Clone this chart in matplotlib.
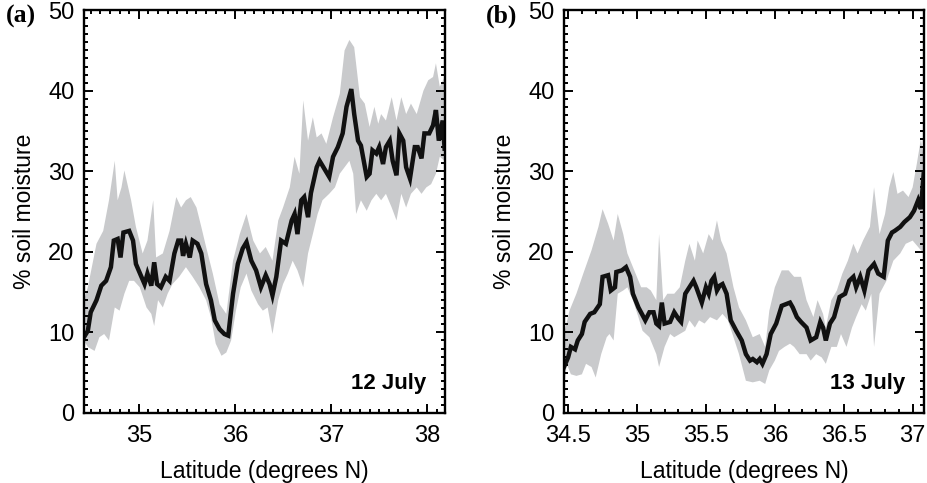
import numpy as np
import matplotlib.pyplot as plt
import matplotlib.transforms as mtransforms
from matplotlib.ticker import MultipleLocator

plt.rcParams['font.family'] = ['Liberation Sans', 'DejaVu Sans']

# ---- 12 July transect ----
lat_a = [34.43, 34.47, 34.50, 34.56, 34.61, 34.66, 34.71, 34.74, 34.78, 34.81, 34.84, 34.90,
         34.94, 34.97, 35.02, 35.06, 35.09, 35.13, 35.16, 35.19, 35.23, 35.28, 35.32, 35.37,
         35.41, 35.44, 35.46, 35.49, 35.53, 35.56, 35.61, 35.65, 35.70, 35.75, 35.79, 35.84,
         35.89, 35.93, 35.98, 36.03, 36.08, 36.12, 36.17, 36.22, 36.27, 36.32, 36.36, 36.39,
         36.43, 36.48, 36.53, 36.59, 36.62, 36.65, 36.69, 36.72, 36.76, 36.79, 36.85, 36.88,
         36.93, 36.98, 37.02, 37.07, 37.12, 37.16, 37.21, 37.24, 37.28, 37.31, 37.37, 37.40,
         37.43, 37.47, 37.50, 37.54, 37.57, 37.61, 37.64, 37.68, 37.71, 37.75, 37.78, 37.82,
         37.87, 37.90, 37.94, 37.97, 38.02, 38.06, 38.09, 38.12, 38.16, 38.18]
sm_a = [9.4, 10.2, 12.5, 14.0, 15.8, 16.4, 18.1, 21.4, 21.6, 19.3, 22.4, 22.6,
        21.4, 18.5, 17.1, 16.0, 17.3, 15.8, 18.7, 16.0, 15.6, 16.9, 16.4, 19.8,
        21.4, 21.4, 19.5, 21.0, 19.3, 21.4, 21.0, 19.8, 16.0, 14.0, 11.5, 10.4,
        9.8, 9.6, 14.8, 18.5, 20.4, 21.2, 18.9, 17.7, 15.6, 17.1, 16.0, 14.6,
        16.9, 21.4, 21.0, 23.9, 24.7, 22.2, 26.4, 26.8, 24.3, 27.3, 30.5, 31.3,
        30.3, 29.3, 31.8, 33.0, 34.7, 38.0, 40.2, 37.1, 33.8, 33.2, 29.3, 29.7,
        32.6, 32.2, 33.0, 30.9, 33.0, 33.8, 31.3, 29.5, 34.7, 33.8, 30.5, 29.1,
        33.0, 33.0, 31.6, 34.7, 34.7, 35.7, 37.6, 33.8, 36.3, 32.8]

lat_a_hi = [34.43, 34.47, 34.56, 34.63, 34.69, 34.75, 34.78, 34.82, 34.85, 34.92, 34.97, 35.04,
            35.09, 35.15, 35.18, 35.25, 35.32, 35.39, 35.44, 35.49, 35.54, 35.60, 35.65, 35.70,
            35.77, 35.84, 35.91, 35.98, 36.05, 36.12, 36.19, 36.26, 36.32, 36.39, 36.45, 36.50,
            36.57, 36.62, 36.67, 36.71, 36.76, 36.81, 36.85, 36.90, 36.95, 37.02, 37.09, 37.14,
            37.19, 37.24, 37.30, 37.35, 37.40, 37.45, 37.49, 37.52, 37.57, 37.63, 37.68, 37.73,
            37.78, 37.83, 37.89, 37.96, 38.01, 38.06, 38.09, 38.13, 38.18]
sm_a_hi = [14.0, 15.6, 21.0, 22.6, 26.4, 31.3, 26.4, 28.0, 30.1, 26.4, 23.1, 19.8,
           21.4, 26.4, 19.3, 19.8, 22.6, 26.8, 25.5, 26.4, 26.8, 25.5, 23.1, 20.6,
           17.3, 13.5, 12.3, 18.9, 22.2, 24.7, 21.4, 19.8, 20.6, 18.9, 23.9, 25.5,
           28.0, 31.8, 29.7, 38.8, 33.8, 36.7, 34.2, 34.7, 33.4, 36.7, 39.6, 45.0,
           46.3, 45.4, 39.2, 38.4, 35.5, 38.0, 35.9, 37.1, 36.3, 39.2, 36.3, 39.2,
           37.1, 38.4, 37.1, 40.0, 41.3, 41.7, 43.4, 40.5, 41.7]

lat_a_lo = [34.43, 34.47, 34.54, 34.59, 34.64, 34.69, 34.75, 34.80, 34.85, 34.90, 34.95, 35.01,
            35.08, 35.13, 35.16, 35.20, 35.25, 35.30, 35.35, 35.42, 35.49, 35.56, 35.63, 35.70,
            35.75, 35.80, 35.86, 35.91, 35.96, 36.01, 36.06, 36.12, 36.17, 36.24, 36.29, 36.34,
            36.39, 36.45, 36.50, 36.55, 36.60, 36.65, 36.71, 36.76, 36.81, 36.86, 36.91, 36.98,
            37.04, 37.09, 37.14, 37.19, 37.23, 37.26, 37.31, 37.37, 37.42, 37.47, 37.52, 37.57,
            37.63, 37.68, 37.73, 37.78, 37.83, 37.89, 37.94, 37.99, 38.04, 38.09, 38.13, 38.18]
sm_a_lo = [9.0, 8.2, 7.7, 9.4, 9.8, 9.0, 13.1, 12.7, 14.8, 16.4, 16.4, 15.6,
           13.1, 12.3, 10.8, 14.0, 13.1, 14.8, 16.0, 16.9, 18.1, 16.9, 15.6, 14.0,
           11.9, 8.6, 7.1, 7.5, 9.0, 12.7, 15.6, 17.3, 15.2, 13.5, 12.7, 13.1,
           9.8, 14.0, 16.0, 17.3, 18.9, 17.7, 15.6, 19.8, 22.2, 24.7, 26.4, 27.2,
           28.0, 29.7, 30.5, 31.3, 29.7, 24.7, 26.4, 25.1, 26.4, 27.2, 26.4, 27.2,
           25.5, 23.9, 27.2, 25.5, 27.2, 28.0, 27.2, 28.0, 28.4, 29.7, 31.8, 31.3]

# ---- 13 July transect ----
lat_b = [34.47, 34.50, 34.52, 34.55, 34.57, 34.60, 34.62, 34.66, 34.69, 34.73, 34.75, 34.79,
         34.81, 34.84, 34.85, 34.89, 34.92, 34.95, 34.97, 35.01, 35.06, 35.09, 35.12, 35.14,
         35.16, 35.18, 35.20, 35.24, 35.27, 35.30, 35.32, 35.35, 35.38, 35.41, 35.43, 35.47,
         35.50, 35.52, 35.54, 35.56, 35.58, 35.60, 35.62, 35.65, 35.68, 35.72, 35.76, 35.79,
         35.82, 35.84, 35.87, 35.89, 35.91, 35.94, 35.97, 36.01, 36.05, 36.08, 36.11, 36.13,
         36.16, 36.19, 36.23, 36.26, 36.30, 36.33, 36.35, 36.37, 36.40, 36.43, 36.47, 36.51,
         36.54, 36.57, 36.59, 36.62, 36.65, 36.68, 36.70, 36.72, 36.75, 36.79, 36.82, 36.85,
         36.87, 36.91, 36.94, 36.98, 37.01, 37.04, 37.06, 37.08]
sm_b = [5.7, 6.9, 8.2, 7.9, 9.0, 9.8, 11.3, 12.3, 12.5, 13.5, 16.9, 17.1,
        15.2, 15.6, 17.5, 17.7, 18.1, 16.9, 14.8, 13.1, 11.5, 12.5, 12.5, 11.1,
        10.8, 13.7, 11.1, 11.3, 12.5, 11.7, 11.3, 14.8, 15.6, 16.4, 15.6, 13.7,
        15.6, 14.8, 16.4, 16.9, 15.2, 15.8, 16.0, 14.8, 11.5, 10.2, 9.0, 7.3,
        6.5, 6.7, 6.3, 6.7, 6.1, 7.3, 9.8, 11.1, 13.3, 13.5, 13.7, 13.1,
        11.9, 11.3, 10.6, 9.0, 9.4, 11.3, 10.6, 9.0, 11.1, 11.9, 14.4, 14.8,
        16.4, 16.9, 15.6, 16.9, 15.2, 17.7, 18.1, 18.5, 17.3, 16.9, 21.4, 22.4,
        22.6, 23.1, 23.7, 24.3, 25.1, 26.4, 25.3, 29.7]

lat_b_hi = [34.47, 34.51, 34.56, 34.61, 34.67, 34.72, 34.75, 34.79, 34.83, 34.86, 34.90, 34.93,
            34.98, 35.03, 35.07, 35.10, 35.14, 35.16, 35.19, 35.22, 35.27, 35.31, 35.35, 35.38,
            35.42, 35.44, 35.48, 35.52, 35.55, 35.58, 35.61, 35.65, 35.70, 35.74, 35.79, 35.84,
            35.89, 35.93, 35.96, 36.00, 36.05, 36.10, 36.14, 36.19, 36.23, 36.28, 36.31, 36.35,
            36.37, 36.41, 36.45, 36.49, 36.53, 36.57, 36.60, 36.64, 36.69, 36.72, 36.76, 36.80,
            36.83, 36.86, 36.89, 36.93, 36.97, 37.00, 37.03, 37.06, 37.08]
sm_b_hi = [9.8, 12.7, 14.8, 17.3, 20.2, 23.1, 25.3, 23.5, 21.4, 24.7, 22.2, 19.8,
           17.7, 15.6, 15.6, 15.2, 14.0, 22.2, 14.0, 14.8, 14.8, 15.6, 18.9, 21.0,
           18.9, 21.4, 19.8, 22.2, 21.4, 23.9, 21.4, 19.8, 15.6, 13.1, 11.5, 9.4,
           9.8, 8.2, 12.7, 15.6, 17.7, 17.7, 16.9, 16.9, 14.0, 11.9, 14.0, 12.3,
           10.6, 14.0, 15.2, 17.3, 18.9, 21.0, 19.8, 21.4, 23.1, 28.0, 22.2, 24.7,
           28.0, 29.9, 27.2, 27.6, 26.8, 28.0, 30.9, 34.0, 31.8]

lat_b_lo = [34.47, 34.49, 34.52, 34.56, 34.60, 34.63, 34.67, 34.70, 34.74, 34.78, 34.80, 34.83,
            34.86, 34.90, 34.93, 34.97, 35.01, 35.04, 35.09, 35.14, 35.16, 35.20, 35.24, 35.27,
            35.31, 35.35, 35.38, 35.42, 35.45, 35.49, 35.53, 35.58, 35.62, 35.66, 35.70, 35.74,
            35.79, 35.84, 35.89, 35.93, 35.96, 36.00, 36.03, 36.07, 36.11, 36.14, 36.18, 36.23,
            36.26, 36.30, 36.34, 36.37, 36.41, 36.45, 36.48, 36.52, 36.56, 36.59, 36.63, 36.66,
            36.70, 36.72, 36.76, 36.81, 36.86, 36.91, 36.95, 37.00, 37.04, 37.08]
sm_b_lo = [3.0, 6.1, 4.8, 4.6, 4.8, 6.1, 5.7, 4.4, 7.3, 9.4, 9.8, 9.0,
           14.8, 15.2, 15.6, 14.0, 11.9, 10.2, 9.4, 7.3, 5.7, 8.2, 9.8, 9.4,
           9.8, 10.2, 11.5, 10.6, 11.5, 11.1, 11.9, 11.5, 12.3, 11.5, 9.4, 7.3,
           4.0, 3.8, 4.0, 3.6, 5.3, 6.5, 7.7, 8.2, 8.6, 8.2, 7.3, 7.3,
           6.5, 7.3, 6.9, 6.1, 8.2, 8.2, 9.8, 8.2, 10.6, 11.9, 13.5, 12.7,
           14.8, 8.2, 14.8, 16.4, 18.9, 19.8, 21.0, 21.4, 20.6, 19.8]

panels = [
    dict(lat=lat_a, sm=sm_a, lat_hi=lat_a_hi, hi=sm_a_hi, lat_lo=lat_a_lo, lo=sm_a_lo,
         xlim=(34.43, 38.18), major=1.0, date='12 July', tag='(a)'),
    dict(lat=lat_b, sm=sm_b, lat_hi=lat_b_hi, hi=sm_b_hi, lat_lo=lat_b_lo, lo=sm_b_lo,
         xlim=(34.47, 37.08), major=0.5, date='13 July', tag='(b)'),
]

fig = plt.figure(figsize=(9.27, 4.83), dpi=100)
axes = [fig.add_axes([0.0906, 0.145, 0.389, 0.834]),
        fig.add_axes([0.6084, 0.145, 0.388, 0.834])]
tag_x = [0.006, 0.524]

for ax, p, tx in zip(axes, panels, tag_x):
    # spread between sensors as a grey envelope, transect mean on top
    ax.fill(np.r_[p['lat_hi'], p['lat_lo'][::-1]], np.r_[p['hi'], p['lo'][::-1]],
            color='#c9cacc', lw=0, zorder=1)
    ax.plot(p['lat'], p['sm'], color='#111111', lw=3.2, solid_joinstyle='miter', zorder=2)

    ax.set_xlim(*p['xlim'])
    ax.set_ylim(0, 50)
    ax.xaxis.set_major_locator(MultipleLocator(p['major']))
    ax.xaxis.set_minor_locator(MultipleLocator(0.1))
    ax.yaxis.set_major_locator(MultipleLocator(10))
    ax.yaxis.set_minor_locator(MultipleLocator(1))
    ax.xaxis.set_major_formatter(plt.FuncFormatter(lambda v, pos: f'{v:g}'))
    ax.tick_params(which='both', direction='in', top=True, right=True, width=1.4,
                   labelsize=17)
    ax.tick_params(axis='y', which='major', length=6.5, pad=7)
    ax.tick_params(axis='x', which='major', length=6.5, pad=9)
    ax.tick_params(which='minor', length=3.2)
    for s in ax.spines.values():
        s.set_linewidth(1.7)

    # lift the "0" label a little off the corner
    zero = ax.yaxis.get_major_ticks()[0].label1
    zero.set_transform(zero.get_transform() +
                       mtransforms.ScaledTranslation(0, 5 / 72, fig.dpi_scale_trans))

    ax.set_xlabel('Latitude (degrees N)', fontsize=16.5, labelpad=9)
    ax.set_ylabel('% soil moisture', fontsize=16.5, labelpad=9)
    ax.text(0.95, 0.073, p['date'], transform=ax.transAxes, ha='right', va='center',
            fontsize=16, fontweight='bold')
    fig.text(tx, 0.966, p['tag'], ha='left', va='center', fontsize=18.5,
             fontweight='bold', family='Liberation Serif')

fig.savefig('out.png', dpi=100)
